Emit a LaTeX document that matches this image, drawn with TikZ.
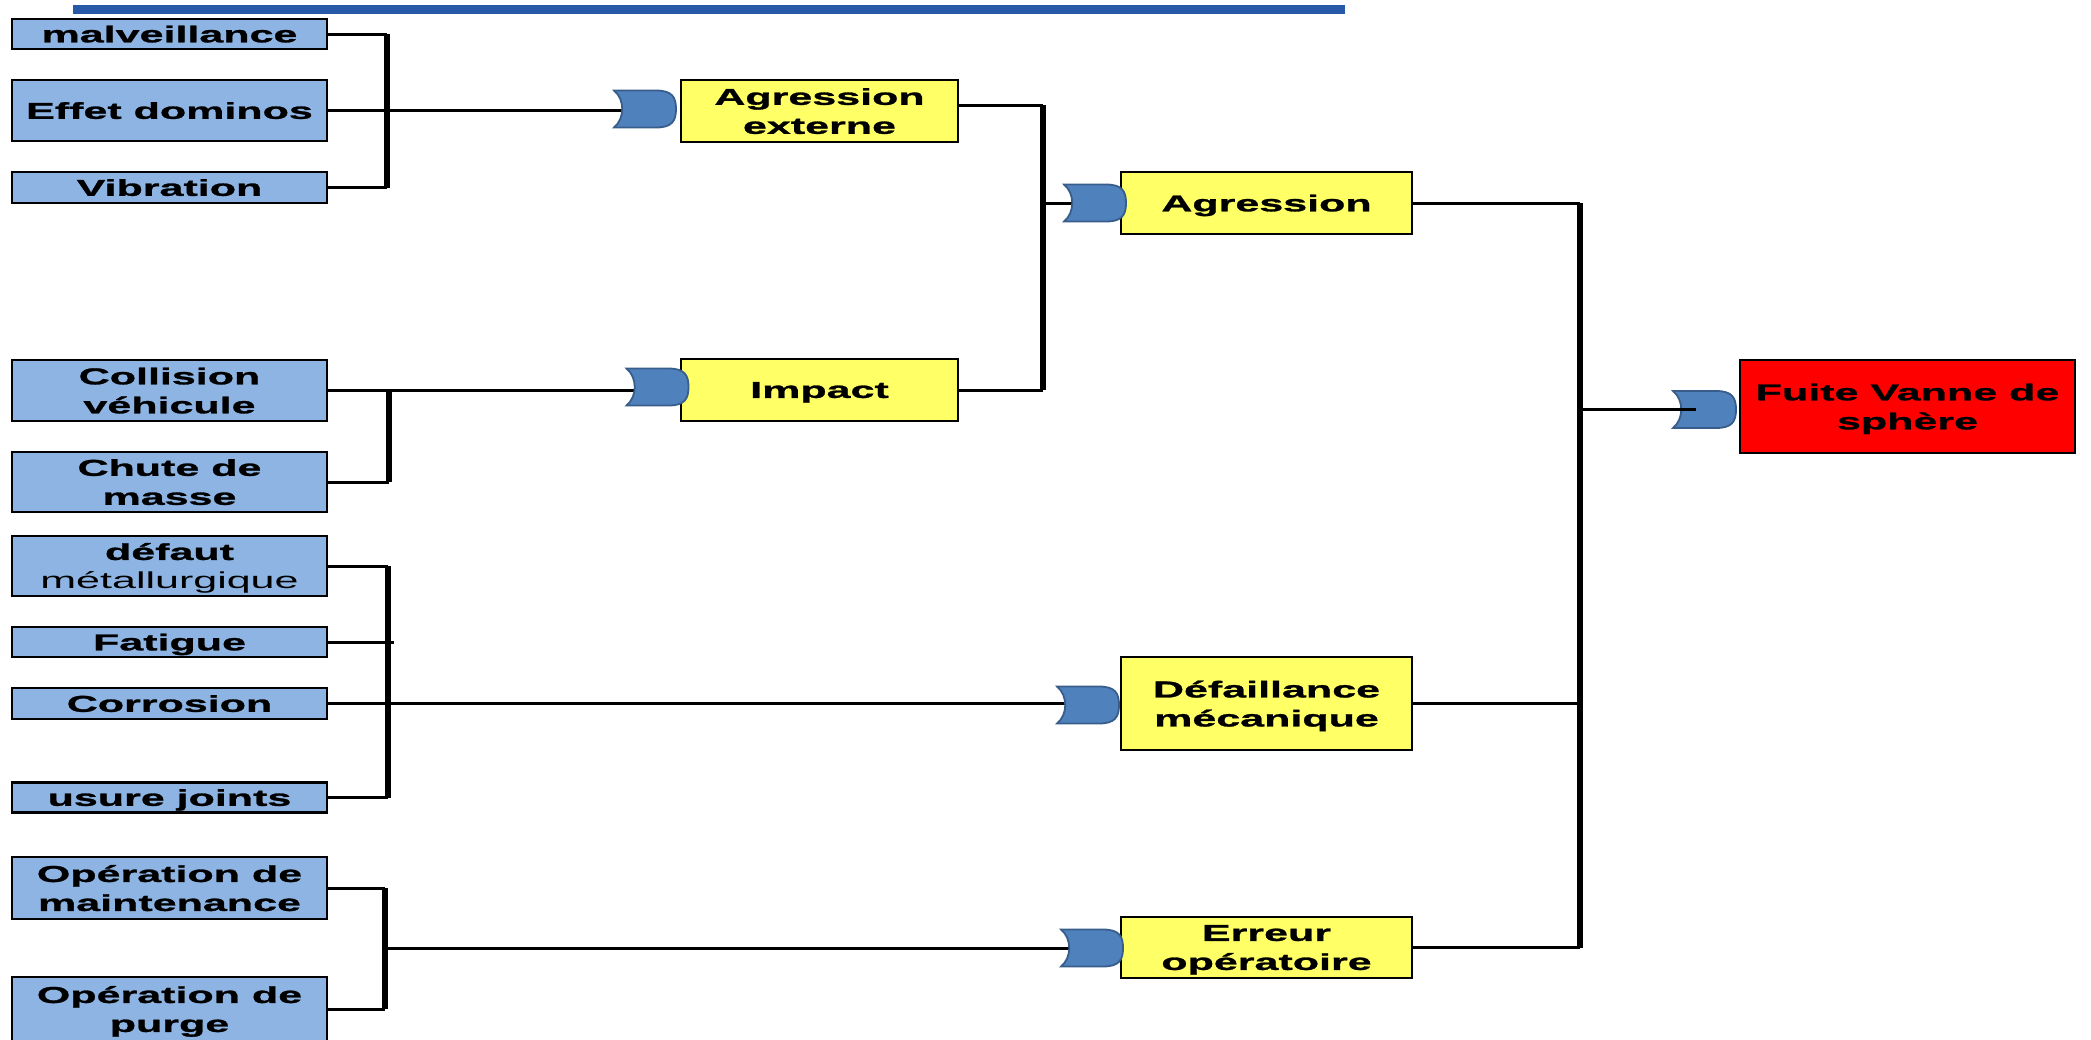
\documentclass[tikz,border=0pt]{standalone}
\usepackage{fontspec}
\setmainfont{Liberation Sans}[FakeStretch=1.87, BoldFeatures={FakeBold=1.2}]
\usetikzlibrary{calc}
\definecolor{boxblue}{RGB}{141,180,226}
\definecolor{boxyellow}{RGB}{255,255,102}
\definecolor{gateblue}{RGB}{79,129,189}
\definecolor{gateedge}{RGB}{56,93,138}
\definecolor{topblue}{RGB}{40,88,168}
\newcommand\gateshape[1]{%
  \path[gatest] (#1.north west) -- ($(#1.north east)+(-20,0)$)
   .. controls ($(#1.north east)+(-4,0)$) and ($(#1.east)+(0,-12)$) .. (#1.east)
   .. controls ($(#1.east)+(0,12)$) and ($(#1.south east)+(-4,0)$) .. ($(#1.south east)+(-20,0)$)
   -- (#1.south west)
   .. controls ($(#1.south west)+(11,-9)$) and ($(#1.north west)+(11,9)$) .. (#1.north west) -- cycle;}
\begin{document}
\begin{tikzpicture}[x=0.5pt,y=-0.5pt,
  txt/.style={font=\fontsize{11.5}{14.5}\selectfont\bfseries, align=center, inner sep=0pt, text=black, text depth=0pt},
  cause/.style={txt, draw=black, line width=1.4pt, fill=boxblue, minimum width=157.5pt},
  event/.style={txt, draw=black, line width=1.4pt, fill=boxyellow},
  top/.style={txt, draw=black, line width=1.4pt, fill=red, minimum width=167.5pt, minimum height=46.5pt},
  gate/.style={inner sep=0pt, outer sep=0pt, minimum width=31pt, minimum height=18.5pt},
  gatest/.style={fill=gateblue, draw=gateedge, line width=0.9pt},
  conn/.style={line width=1.5pt, draw=black},
  bus/.style={line width=3pt, draw=black},
  topline/.style={line width=4.5pt, draw=topblue}]
\useasboundingbox (0,0) rectangle (2091,1039);
\draw[topline] (73,9) -- (1345,9);
% basic causes
\node[cause, minimum height=15pt]   (mal) at (169.5,34)    {malveillance};
\node[cause, minimum height=30.5pt] (eff) at (169.5,110.5) {Effet dominos};
\node[cause, minimum height=15.5pt] (vib) at (169.5,187.5) {Vibration};
\node[cause, minimum height=30.5pt] (col) at (169.5,390.5) {Collision\\véhicule};
\node[cause, minimum height=30pt]   (chu) at (169.5,482)   {Chute de\\masse};
\node[cause, minimum height=30pt]   (def) at (169.5,566)   {défaut\\{\mdseries métallurgique}};
\node[cause, minimum height=15pt]   (fat) at (169.5,642)   {Fatigue};
\node[cause, minimum height=15.5pt] (cor) at (169.5,703.5) {Corrosion};
\node[cause, minimum height=15pt]   (usu) at (169.5,797.5) {usure joints};
\node[cause, minimum height=31pt]   (opm) at (169.5,888)   {Opération de\\maintenance};
\node[cause, minimum height=32pt]   (opp) at (169.5,1009)  {Opération de\\purge};
% intermediate events
\node[event, minimum width=138.5pt, minimum height=31pt]   (ae)  at (819.5,111)   {Agression\\externe};
\node[event, minimum width=138.5pt, minimum height=31pt]   (imp) at (819.5,390)   {Impact};
\node[event, minimum width=145.5pt, minimum height=31pt]   (agr) at (1266.5,203)  {Agression};
\node[event, minimum width=145.5pt, minimum height=46.5pt] (dm)  at (1266.5,703.5) {Défaillance\\mécanique};
\node[event, minimum width=145.5pt, minimum height=30.5pt] (eo)  at (1266.5,947.5) {Erreur\\opératoire};
\node[top] (fuite) at (1907.5,406.5) {Fuite Vanne de\\sphère};
% gates
\node[gate] (g1) at (645,109) {};
\node[gate] (g2) at (657.5,387) {};
\node[gate] (g3) at (1095,203) {};
\node[gate] (g4) at (1088,705) {};
\node[gate] (g5) at (1092,948) {};
\node[gate, minimum width=31.5pt, minimum height=18.5pt] (g6) at (1704.5,409.5) {};
% bus positions
\coordinate (b1) at (387,0);
\coordinate (b2) at (389,0);
\coordinate (b3) at (388,0);
\coordinate (b4) at (385,0);
\coordinate (b5) at (1043,0);
\coordinate (b6) at (1580,0);
\coordinate (j4) at (385,948);
\coordinate (aeo) at ($(ae.east)+(0,-6)$);
% group 1
\draw[conn] (mal.east) -- (mal.east -| b1);
\draw[conn] (vib.east) -- (vib.east -| b1);
\draw[bus] (mal.east -| b1) -- (vib.east -| b1);
\draw[conn] (eff.east) -- (eff.east -| g1.center);
% group 2
\draw[conn] (col.east) -- (col.east -| g2.center);
\draw[conn] (chu.east) -- (chu.east -| b2);
\draw[bus] (col.east -| b2) -- (chu.east -| b2);
% group 3
\draw[conn] (def.east) -- (def.east -| b3);
\draw[conn] (fat.east) -- ($(fat.east -| b3)+(6,0)$);
\draw[conn] (usu.east) -- (usu.east -| b3);
\draw[bus] (def.east -| b3) -- (usu.east -| b3);
\draw[conn] (cor.east) -- (cor.east -| g4.center);
% group 4
\draw[conn] (opm.east) -- (opm.east -| b4);
\draw[conn] (opp.east) -- (opp.east -| b4);
\draw[bus] (opm.east -| b4) -- (opp.east -| b4);
\draw[conn] (j4) -- (j4 -| g5.center);
% agression
\draw[conn] (aeo) -- (aeo -| b5);
\draw[conn] (imp.east) -- (imp.east -| b5);
\draw[bus] (aeo -| b5) -- (imp.east -| b5);
\draw[conn] (g3.center -| b5) -- (g3.center);
% top
\draw[conn] (agr.east) -- (agr.east -| b6);
\draw[conn] (dm.east) -- (dm.east -| b6);
\draw[conn] (eo.east) -- (eo.east -| b6);
\draw[bus] (agr.east -| b6) -- (eo.east -| b6);
% gate shapes
\gateshape{g1}
\gateshape{g2}
\gateshape{g3}
\gateshape{g4}
\gateshape{g5}
\gateshape{g6}
\draw[conn] (g6.center -| b6) -- ($(g6.center)+(-9,0)$);
\end{tikzpicture}
\end{document}
